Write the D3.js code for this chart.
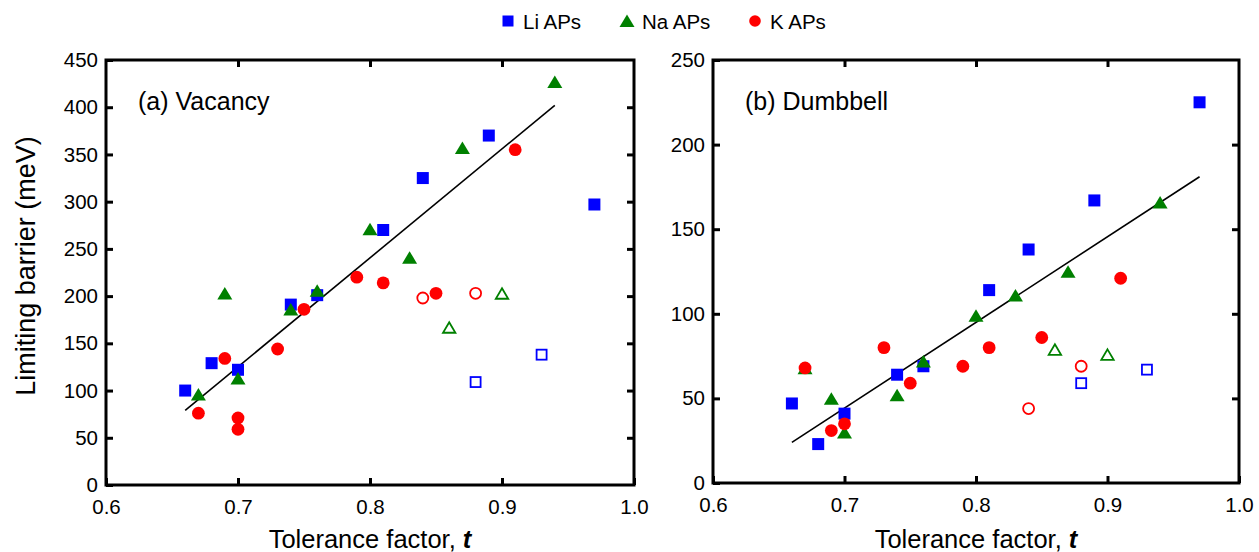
<!DOCTYPE html>
<html>
<head>
<meta charset="utf-8">
<script src="https://cdn.jsdelivr.net/npm/d3@7"></script>
<style>
  html, body { margin: 0; padding: 0; background: #fff; }
  svg { display: block; font-family: "Liberation Sans", Arial, sans-serif; }
</style>
</head>
<body>
<svg id="chart" width="1259" height="552"></svg>
<script>
// ---------------- DATA ----------------
// Panel (a) Vacancy : [tolerance factor, limiting barrier (meV)]
const vacLi      = [[0.66,100],[0.68,129],[0.70,122],[0.74,191],[0.76,201],[0.81,270],[0.84,325],[0.89,370],[0.97,297]];
const vacLiOpen  = [[0.88,109],[0.93,138]];
const vacNa      = [[0.67,96],[0.69,203],[0.70,113],[0.74,186],[0.76,206],[0.80,271],[0.83,241],[0.87,357],[0.94,427]];
const vacNaOpen  = [[0.86,167],[0.90,203]];
const vacK       = [[0.67,76],[0.69,134],[0.70,71],[0.70,59],[0.73,144],[0.75,186],[0.79,220],[0.81,214],[0.85,203],[0.91,355]];
const vacKOpen   = [[0.84,198],[0.88,203]];
const vacFit     = [[0.66,79],[0.94,402]];

// Panel (b) Dumbbell
const dumLi      = [[0.66,47],[0.68,23],[0.70,41],[0.74,64],[0.76,69],[0.81,114],[0.84,138],[0.89,167],[0.97,225]];
const dumLiOpen  = [[0.88,59],[0.93,67]];
const dumNa      = [[0.67,68],[0.69,50],[0.70,30],[0.74,52],[0.76,72],[0.80,99],[0.83,111],[0.87,125],[0.94,166]];
const dumNaOpen  = [[0.86,79],[0.90,76]];
const dumK       = [[0.67,68],[0.69,31],[0.70,35],[0.73,80],[0.75,59],[0.79,69],[0.81,80],[0.85,86],[0.91,121]];
const dumKOpen   = [[0.84,44],[0.88,69]];
const dumFit     = [[0.66,24],[0.97,181]];

const xTicks     = [0.6,0.7,0.8,0.9,1.0];
const yTicksVac  = [0,50,100,150,200,250,300,350,400,450];
const yTicksDum  = [0,50,100,150,200,250];
const panelLabels = ["(a) Vacancy","(b) Dumbbell"];
const legendLabels = ["Li APs","Na APs","K APs"];

// ---------------- STYLE ----------------
const BLUE = "#0000ff", GREEN = "#008000", RED = "#ff0000";
const svg = d3.select("#chart");

function marker(g, shape, x, y, color, open) {
  let el;
  if (shape === "square") {
    const s = 12;
    el = g.append("rect").attr("x", x - s/2).attr("y", y - s/2).attr("width", s).attr("height", s);
    if (open) { el.attr("x", x - s/2 + 1).attr("y", y - s/2 + 1).attr("width", s - 2).attr("height", s - 2); }
  } else if (shape === "triangle") {
    const w = 15, h = 12.5;
    const pts = open ? [[x, y - h/2 + 1.2],[x + w/2 - 1.3, y + h/2 - 0.8],[x - w/2 + 1.3, y + h/2 - 0.8]]
                     : [[x, y - h/2],[x + w/2, y + h/2],[x - w/2, y + h/2]];
    el = g.append("polygon").attr("points", pts.map(p => p.join(",")).join(" "));
  } else {
    el = g.append("circle").attr("cx", x).attr("cy", y).attr("r", open ? 5.5 : 6.4);
  }
  if (open) el.attr("fill", "none").attr("stroke", color).attr("stroke-width", 1.8);
  else el.attr("fill", color);
}

function panel(cfg) {
  const x = d3.scaleLinear().domain([0.6, 1.0]).range([cfg.left, cfg.right]);
  const y = d3.scaleLinear().domain([0, cfg.ymax]).range([cfg.bottom, cfg.top]);
  const g = svg.append("g");

  // axes (inward ticks)
  const bottom = g.append("g").attr("transform", `translate(0,${cfg.bottom})`)
    .call(d3.axisBottom(x).tickValues(xTicks).tickSize(-7).tickPadding(14).tickFormat(d3.format(".1f")));
  const left = g.append("g").attr("transform", `translate(${cfg.left},0)`)
    .call(d3.axisLeft(y).tickValues(cfg.yTicks).tickSize(-7).tickPadding(8).tickFormat(d3.format("d")));
  const top = g.append("g").attr("transform", `translate(0,${cfg.top})`)
    .call(d3.axisTop(x).tickValues(xTicks.slice(1, -1)).tickSize(-7).tickFormat(""));
  const right = g.append("g").attr("transform", `translate(${cfg.right},0)`)
    .call(d3.axisRight(y).tickValues(cfg.yTicks.slice(1, -1)).tickSize(-7).tickFormat(""));
  [bottom, left, top, right].forEach(a => {
    a.select(".domain").remove();
    a.selectAll(".tick line").attr("stroke", "#000").attr("stroke-width", 3);
    a.selectAll(".tick text").attr("font-size", 20.5).attr("fill", "#000")
      .attr("font-family", '"Liberation Sans", Arial, sans-serif');
  });
  bottom.selectAll(".tick text").attr("dy", "0.71em");

  // frame
  g.append("rect").attr("x", cfg.left).attr("y", cfg.top)
    .attr("width", cfg.right - cfg.left).attr("height", cfg.bottom - cfg.top)
    .attr("fill", "none").attr("stroke", "#000").attr("stroke-width", 3);

  // fit line
  g.append("path").datum(cfg.fit)
    .attr("d", d3.line().x(d => x(d[0])).y(d => y(d[1])))
    .attr("stroke", "#000").attr("stroke-width", 1.6).attr("fill", "none");

  // points
  const m = g.append("g");
  cfg.li.forEach(d => marker(m, "square", x(d[0]), y(d[1]), BLUE, false));
  cfg.liOpen.forEach(d => marker(m, "square", x(d[0]), y(d[1]), BLUE, true));
  cfg.na.forEach(d => marker(m, "triangle", x(d[0]), y(d[1]), GREEN, false));
  cfg.naOpen.forEach(d => marker(m, "triangle", x(d[0]), y(d[1]), GREEN, true));
  cfg.k.forEach(d => marker(m, "circle", x(d[0]), y(d[1]), RED, false));
  cfg.kOpen.forEach(d => marker(m, "circle", x(d[0]), y(d[1]), RED, true));

  // panel label
  g.append("text").attr("x", cfg.left + 32).attr("y", 110)
    .attr("font-size", 25).attr("fill", "#000").text(cfg.label);

  // x title
  const xt = g.append("text").attr("x", (cfg.left + cfg.right) / 2).attr("y", 548)
    .attr("text-anchor", "middle").attr("font-size", 25.5).attr("fill", "#000");
  xt.append("tspan").text("Tolerance factor, ");
  xt.append("tspan").attr("font-weight", "bold").attr("font-style", "italic").text("t");
}

panel({ left: 106, right: 634, top: 60, bottom: 485, ymax: 450, yTicks: yTicksVac,
        li: vacLi, liOpen: vacLiOpen, na: vacNa, naOpen: vacNaOpen, k: vacK, kOpen: vacKOpen,
        fit: vacFit, label: panelLabels[0] });
panel({ left: 713, right: 1239, top: 60, bottom: 483, ymax: 250, yTicks: yTicksDum,
        li: dumLi, liOpen: dumLiOpen, na: dumNa, naOpen: dumNaOpen, k: dumK, kOpen: dumKOpen,
        fit: dumFit, label: panelLabels[1] });

// y-axis title
svg.append("text").attr("transform", "translate(35,266) rotate(-90)")
  .attr("text-anchor", "middle").attr("font-size", 27).attr("fill", "#000")
  .text("Limiting barrier (meV)");

// legend
const leg = svg.append("g");
const legX = [508, 627, 755];
const legShapes = ["square", "triangle", "circle"];
const legColors = [BLUE, GREEN, RED];
legendLabels.forEach((lab, i) => {
  if (legShapes[i] === "square") leg.append("rect").attr("x", legX[i] - 5.5).attr("y", 15.5).attr("width", 11).attr("height", 11).attr("fill", legColors[i]);
  else if (legShapes[i] === "triangle") leg.append("polygon")
    .attr("points", `${legX[i]},14.5 ${legX[i] + 7.5},27 ${legX[i] - 7.5},27`).attr("fill", legColors[i]);
  else leg.append("circle").attr("cx", legX[i]).attr("cy", 21).attr("r", 5.8).attr("fill", legColors[i]);
  leg.append("text").attr("x", legX[i] + 15).attr("y", 28.5).attr("font-size", 20.5).attr("fill", "#000").text(lab);
});
</script>
</body>
</html>
